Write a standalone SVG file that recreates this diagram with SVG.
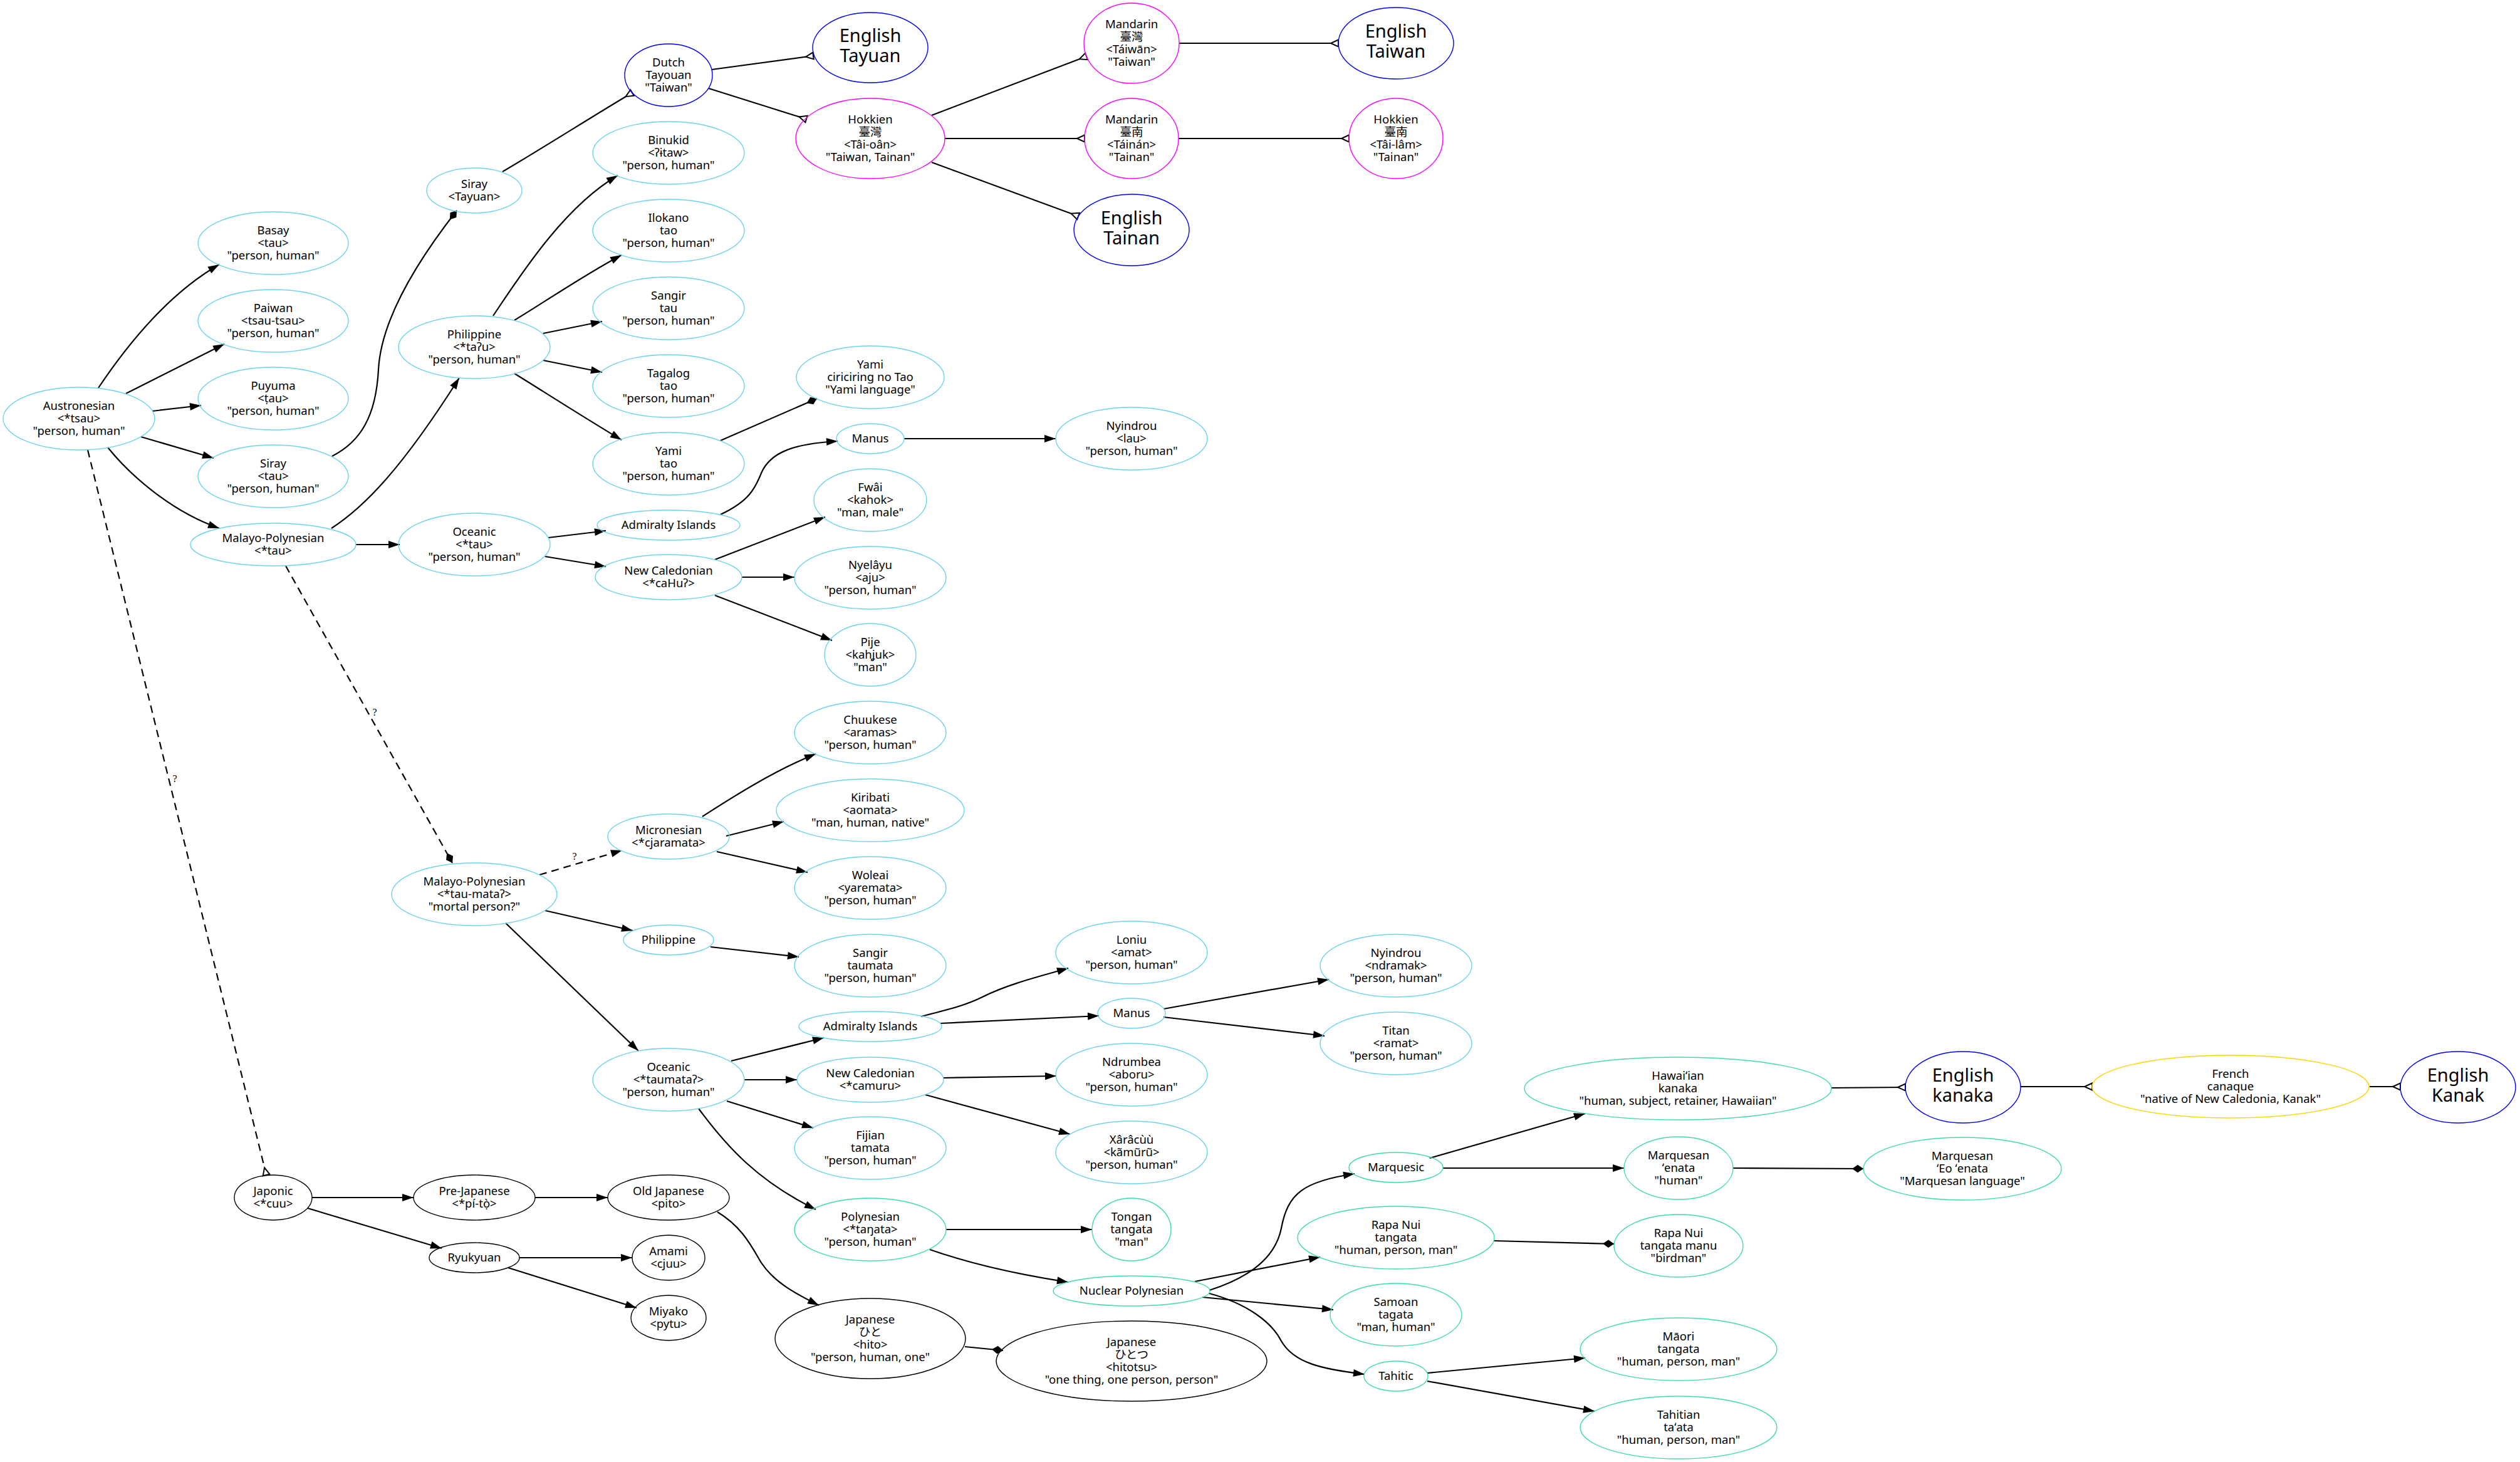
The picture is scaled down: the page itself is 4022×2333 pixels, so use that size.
<svg xmlns="http://www.w3.org/2000/svg" width="4022" height="2333" viewBox="0 0 4022 2333">
<style>
ellipse{fill:none;stroke-width:1.4}
.c ellipse{stroke:#6cd3ee}
.g ellipse{stroke:#40dca8}
.m ellipse{stroke:#ff00ff}
.b ellipse{stroke:#0000ff}
.y ellipse{stroke:#ffd400}
.k ellipse{stroke:#000}
text{font-family:"Noto Sans","Noto Sans CJK TC","Noto Sans CJK JP",sans-serif;font-size:18.5px;text-anchor:middle;fill:#000}
.big text{font-size:29px}
#edges path{fill:none;stroke:#000;stroke-width:2.2}
#edges path.d{stroke-dasharray:12,8}
#edges text{font-family:"Liberation Serif",serif;font-size:16px}
</style>
<defs>
<marker id="a" markerUnits="userSpaceOnUse" markerWidth="20" markerHeight="14" refX="18" refY="0" orient="auto" overflow="visible"><path d="M0,-6 L18,0 L0,6 z" fill="#000" stroke="none"/></marker>
<marker id="dm" markerUnits="userSpaceOnUse" markerWidth="20" markerHeight="14" refX="18" refY="0" orient="auto" overflow="visible"><path d="M0,0 L9,-6.3 L18,0 L9,6.3 z" fill="#000" stroke="none"/></marker>
<marker id="iv" markerUnits="userSpaceOnUse" markerWidth="14" markerHeight="14" refX="12" refY="0" orient="auto" overflow="visible"><path d="M12,-5.5 L0,0 L12,5.5 z" fill="#fff" stroke="#000" stroke-width="2" stroke-dasharray="none"/></marker>
</defs>
<rect width="4022" height="2333" fill="#fff"/>
<g id="edges">
<path d="M157,619 C210,540 275,465 350,422" marker-end="url(#a)"/>
<path d="M201,628 L358,549" marker-end="url(#a)"/>
<path d="M243,656 L321,647" marker-end="url(#a)"/>
<path d="M225,697 L341,731" marker-end="url(#a)"/>
<path d="M172,714 C205,755 270,815 350,843" marker-end="url(#a)"/>
<path d="M530,728 C575,705 600,665 604,590 C607,530 640,450 729,336" marker-end="url(#dm)"/>
<path d="M529,843 C580,810 640,750 733,603" marker-end="url(#a)"/>
<path d="M568,869 L638,869" marker-end="url(#a)"/>
<path d="M787,504 C830,440 900,330 986,280" marker-end="url(#a)"/>
<path d="M821,511 C860,488 930,440 992,407" marker-end="url(#a)"/>
<path d="M867,532 L961,513" marker-end="url(#a)"/>
<path d="M867,575 L961,594" marker-end="url(#a)"/>
<path d="M821,596 C860,620 930,665 992,702" marker-end="url(#a)"/>
<path d="M875,858 L967,847" marker-end="url(#a)"/>
<path d="M870,888 L967,904" marker-end="url(#a)"/>
<path d="M1150,703 L1304,636" marker-end="url(#dm)"/>
<path d="M1150,821 C1195,800 1205,780 1215,755 C1230,720 1270,708 1337,704" marker-end="url(#a)"/>
<path d="M1443,700 L1685,700" marker-end="url(#a)"/>
<path d="M1141,893 L1317,825" marker-end="url(#a)"/>
<path d="M1184,921 L1268,921" marker-end="url(#a)"/>
<path d="M1141,950 L1328,1022" marker-end="url(#a)"/>
<path d="M802,274 C860,240 950,183 1009,148" marker-end="url(#iv)"/>
<path d="M1136,111 L1298,89" marker-end="url(#iv)"/>
<path d="M1131,141 L1287,190" marker-end="url(#iv)"/>
<path d="M1487,184 L1734,90" marker-end="url(#iv)"/>
<path d="M1508,221 L1731,221" marker-end="url(#iv)"/>
<path d="M1487,259 L1721,345" marker-end="url(#iv)"/>
<path d="M1882,69 L2136,69" marker-end="url(#iv)"/>
<path d="M1881,221 L2153,221" marker-end="url(#iv)"/>
<path class="d" d="M140,718 L425,1875" marker-end="url(#iv)"/>
<text x="279" y="1248">?</text>
<path class="d" d="M456,903 L722,1377" marker-end="url(#dm)"/>
<text x="598" y="1142">?</text>
<path class="d" d="M861,1396 L993,1357" marker-end="url(#a)"/>
<text x="917" y="1372">?</text>
<path d="M870,1453 L1010,1485" marker-end="url(#a)"/>
<path d="M807,1473 L1019,1677" marker-end="url(#a)"/>
<path d="M1121,1303 C1160,1278 1230,1232 1302,1203" marker-end="url(#a)"/>
<path d="M1159,1334 L1251,1311" marker-end="url(#a)"/>
<path d="M1144,1359 L1289,1392" marker-end="url(#a)"/>
<path d="M1134,1511 L1275,1527" marker-end="url(#a)"/>
<path d="M1470,1622 C1510,1612 1540,1605 1570,1590 C1610,1570 1660,1558 1705,1545" marker-end="url(#a)"/>
<path d="M1501,1633 L1754,1621" marker-end="url(#a)"/>
<path d="M1167,1693 L1315,1656" marker-end="url(#a)"/>
<path d="M1188,1723 L1272,1723" marker-end="url(#a)"/>
<path d="M1160,1757 L1298,1800" marker-end="url(#a)"/>
<path d="M1115,1769 C1160,1830 1210,1885 1302,1930" marker-end="url(#a)"/>
<path d="M1145,1934 C1185,1958 1200,1990 1215,2015 C1235,2045 1265,2062 1307,2083" marker-end="url(#a)"/>
<path d="M1506,1720 L1686,1717" marker-end="url(#a)"/>
<path d="M1477,1747 L1708,1810" marker-end="url(#a)"/>
<path d="M1510,1962 L1743,1962" marker-end="url(#a)"/>
<path d="M1484,1994 C1530,2010 1600,2030 1705,2046" marker-end="url(#a)"/>
<path d="M1540,2149 L1601,2155" marker-end="url(#dm)"/>
<path d="M1857,1610 L2121,1563" marker-end="url(#a)"/>
<path d="M1857,1623 L2114,1653" marker-end="url(#a)"/>
<path d="M1930,2059 C1990,2040 2035,2010 2045,1960 C2055,1905 2080,1885 2162,1873" marker-end="url(#a)"/>
<path d="M1907,2045 L2107,2006" marker-end="url(#a)"/>
<path d="M1919,2070 L2128,2090" marker-end="url(#a)"/>
<path d="M1930,2064 C1990,2080 2030,2110 2045,2140 C2065,2175 2110,2185 2178,2193" marker-end="url(#a)"/>
<path d="M2282,1848 L2530,1777" marker-end="url(#a)"/>
<path d="M2303,1864 L2592,1864" marker-end="url(#a)"/>
<path d="M2384,1980 L2576,1985" marker-end="url(#dm)"/>
<path d="M2278,2191 L2530,2167" marker-end="url(#a)"/>
<path d="M2278,2204 L2545,2252" marker-end="url(#a)"/>
<path d="M2923,1736 L3041,1735" marker-end="url(#iv)"/>
<path d="M3225,1734 L3339,1734" marker-end="url(#iv)"/>
<path d="M3782,1734 L3831,1734" marker-end="url(#iv)"/>
<path d="M2766,1864 L2974,1865" marker-end="url(#dm)"/>
<path d="M498,1911 L660,1911" marker-end="url(#a)"/>
<path d="M854,1911 L970,1911" marker-end="url(#a)"/>
<path d="M491,1928 L705,1992" marker-end="url(#a)"/>
<path d="M829,2007 L1009,2007" marker-end="url(#a)"/>
<path d="M811,2023 L1016,2087" marker-end="url(#a)"/>
</g>
<g id="austronesian" class="c"><ellipse cx="126" cy="668" rx="121" ry="50"/><text x="126" y="654">Austronesian<tspan x="126" dy="20">&lt;*tsau&gt;</tspan><tspan x="126" dy="20">"person, human"</tspan></text></g>
<g id="basay" class="c"><ellipse cx="436" cy="388" rx="120" ry="50"/><text x="436" y="374">Basay<tspan x="436" dy="20">&lt;tau&gt;</tspan><tspan x="436" dy="20">"person, human"</tspan></text></g>
<g id="paiwan" class="c"><ellipse cx="436" cy="512" rx="120" ry="50"/><text x="436" y="498">Paiwan<tspan x="436" dy="20">&lt;tsau-tsau&gt;</tspan><tspan x="436" dy="20">"person, human"</tspan></text></g>
<g id="puyuma" class="c"><ellipse cx="436" cy="636" rx="120" ry="50"/><text x="436" y="622">Puyuma<tspan x="436" dy="20">&lt;ṭau&gt;</tspan><tspan x="436" dy="20">"person, human"</tspan></text></g>
<g id="siray-tau" class="c"><ellipse cx="436" cy="760" rx="120" ry="50"/><text x="436" y="746">Siray<tspan x="436" dy="20">&lt;tau&gt;</tspan><tspan x="436" dy="20">"person, human"</tspan></text></g>
<g id="mp-tau" class="c"><ellipse cx="436" cy="869" rx="132" ry="34"/><text x="436" y="865">Malayo-Polynesian<tspan x="436" dy="20">&lt;*tau&gt;</tspan></text></g>
<g id="siray-tayuan" class="c"><ellipse cx="757" cy="304" rx="76" ry="36"/><text x="757" y="300">Siray<tspan x="757" dy="20">&lt;Tayuan&gt;</tspan></text></g>
<g id="philippine-1" class="c"><ellipse cx="757" cy="554" rx="121" ry="50"/><text x="757" y="540">Philippine<tspan x="757" dy="20">&lt;*taʔu&gt;</tspan><tspan x="757" dy="20">"person, human"</tspan></text></g>
<g id="oceanic-1" class="c"><ellipse cx="757" cy="869" rx="121" ry="50"/><text x="757" y="855">Oceanic<tspan x="757" dy="20">&lt;*tau&gt;</tspan><tspan x="757" dy="20">"person, human"</tspan></text></g>
<g id="dutch" class="b"><ellipse cx="1067" cy="120" rx="70" ry="50"/><text x="1067" y="106">Dutch<tspan x="1067" dy="20">Tayouan</tspan><tspan x="1067" dy="20">"Taiwan"</tspan></text></g>
<g id="binukid" class="c"><ellipse cx="1067" cy="244" rx="121" ry="50"/><text x="1067" y="230">Binukid<tspan x="1067" dy="20">&lt;ʔɨtaw&gt;</tspan><tspan x="1067" dy="20">"person, human"</tspan></text></g>
<g id="ilokano" class="c"><ellipse cx="1067" cy="368" rx="121" ry="50"/><text x="1067" y="354">Ilokano<tspan x="1067" dy="20">tao</tspan><tspan x="1067" dy="20">"person, human"</tspan></text></g>
<g id="sangir-1" class="c"><ellipse cx="1067" cy="492" rx="121" ry="50"/><text x="1067" y="478">Sangir<tspan x="1067" dy="20">tau</tspan><tspan x="1067" dy="20">"person, human"</tspan></text></g>
<g id="tagalog" class="c"><ellipse cx="1067" cy="616" rx="121" ry="50"/><text x="1067" y="602">Tagalog<tspan x="1067" dy="20">tao</tspan><tspan x="1067" dy="20">"person, human"</tspan></text></g>
<g id="yami-tao" class="c"><ellipse cx="1067" cy="740" rx="121" ry="50"/><text x="1067" y="726">Yami<tspan x="1067" dy="20">tao</tspan><tspan x="1067" dy="20">"person, human"</tspan></text></g>
<g id="admiralty-1" class="c"><ellipse cx="1067" cy="838" rx="114" ry="24"/><text x="1067" y="844">Admiralty Islands</text></g>
<g id="newcal-1" class="c"><ellipse cx="1067" cy="921" rx="117" ry="36"/><text x="1067" y="917">New Caledonian<tspan x="1067" dy="20">&lt;*caHuʔ&gt;</tspan></text></g>
<g id="english-tayuan" class="b big"><ellipse cx="1389" cy="76" rx="92" ry="56"/><text x="1389" y="67">English<tspan x="1389" dy="32">Tayuan</tspan></text></g>
<g id="hokkien-taiwan" class="m"><ellipse cx="1389" cy="221" rx="119" ry="64"/><text x="1389" y="197">Hokkien<tspan x="1389" dy="20">臺灣</tspan><tspan x="1389" dy="20">&lt;Tâi-oân&gt;</tspan><tspan x="1389" dy="20">"Taiwan, Tainan"</tspan></text></g>
<g id="yami-ciriciring" class="c"><ellipse cx="1389" cy="602" rx="118" ry="50"/><text x="1389" y="588">Yami<tspan x="1389" dy="20">ciriciring no Tao</tspan><tspan x="1389" dy="20">"Yami language"</tspan></text></g>
<g id="manus-1" class="c"><ellipse cx="1389" cy="700" rx="54" ry="24"/><text x="1389" y="706">Manus</text></g>
<g id="fwai" class="c"><ellipse cx="1389" cy="798" rx="90" ry="50"/><text x="1389" y="784">Fwâi<tspan x="1389" dy="20">&lt;kahok&gt;</tspan><tspan x="1389" dy="20">"man, male"</tspan></text></g>
<g id="nyelayu" class="c"><ellipse cx="1389" cy="922" rx="121" ry="50"/><text x="1389" y="908">Nyelâyu<tspan x="1389" dy="20">&lt;aju&gt;</tspan><tspan x="1389" dy="20">"person, human"</tspan></text></g>
<g id="pije" class="c"><ellipse cx="1389" cy="1045" rx="73" ry="50"/><text x="1389" y="1031">Pije<tspan x="1389" dy="20">&lt;kahʝuk&gt;</tspan><tspan x="1389" dy="20">"man"</tspan></text></g>
<g id="mandarin-taiwan" class="m"><ellipse cx="1806" cy="69" rx="76" ry="64"/><text x="1806" y="45">Mandarin<tspan x="1806" dy="20">臺灣</tspan><tspan x="1806" dy="20">&lt;Táiwān&gt;</tspan><tspan x="1806" dy="20">"Taiwan"</tspan></text></g>
<g id="mandarin-tainan" class="m"><ellipse cx="1806" cy="221" rx="75" ry="64"/><text x="1806" y="197">Mandarin<tspan x="1806" dy="20">臺南</tspan><tspan x="1806" dy="20">&lt;Táinán&gt;</tspan><tspan x="1806" dy="20">"Tainan"</tspan></text></g>
<g id="english-tainan" class="b big"><ellipse cx="1806" cy="367" rx="92" ry="57"/><text x="1806" y="358">English<tspan x="1806" dy="32">Tainan</tspan></text></g>
<g id="nyindrou-lau" class="c"><ellipse cx="1806" cy="700" rx="121" ry="50"/><text x="1806" y="686">Nyindrou<tspan x="1806" dy="20">&lt;lau&gt;</tspan><tspan x="1806" dy="20">"person, human"</tspan></text></g>
<g id="english-taiwan" class="b big"><ellipse cx="2228" cy="69" rx="92" ry="57"/><text x="2228" y="60">English<tspan x="2228" dy="32">Taiwan</tspan></text></g>
<g id="hokkien-tainan" class="m"><ellipse cx="2228" cy="221" rx="75" ry="64"/><text x="2228" y="197">Hokkien<tspan x="2228" dy="20">臺南</tspan><tspan x="2228" dy="20">&lt;Tâi-lâm&gt;</tspan><tspan x="2228" dy="20">"Tainan"</tspan></text></g>
<g id="mp-taumata" class="c"><ellipse cx="757" cy="1427" rx="132" ry="50"/><text x="757" y="1413">Malayo-Polynesian<tspan x="757" dy="20">&lt;*tau-mataʔ&gt;</tspan><tspan x="757" dy="20">"mortal person?"</tspan></text></g>
<g id="micronesian" class="c"><ellipse cx="1067" cy="1335" rx="97" ry="36"/><text x="1067" y="1331">Micronesian<tspan x="1067" dy="20">&lt;*cjaramata&gt;</tspan></text></g>
<g id="philippine-2" class="c"><ellipse cx="1067" cy="1500" rx="72" ry="24"/><text x="1067" y="1506">Philippine</text></g>
<g id="oceanic-2" class="c"><ellipse cx="1067" cy="1723" rx="121" ry="50"/><text x="1067" y="1709">Oceanic<tspan x="1067" dy="20">&lt;*taumataʔ&gt;</tspan><tspan x="1067" dy="20">"person, human"</tspan></text></g>
<g id="chuukese" class="c"><ellipse cx="1389" cy="1169" rx="121" ry="50"/><text x="1389" y="1155">Chuukese<tspan x="1389" dy="20">&lt;aramas&gt;</tspan><tspan x="1389" dy="20">"person, human"</tspan></text></g>
<g id="kiribati" class="c"><ellipse cx="1389" cy="1293" rx="150" ry="50"/><text x="1389" y="1279">Kiribati<tspan x="1389" dy="20">&lt;aomata&gt;</tspan><tspan x="1389" dy="20">"man, human, native"</tspan></text></g>
<g id="woleai" class="c"><ellipse cx="1389" cy="1417" rx="121" ry="50"/><text x="1389" y="1403">Woleai<tspan x="1389" dy="20">&lt;yaremata&gt;</tspan><tspan x="1389" dy="20">"person, human"</tspan></text></g>
<g id="sangir-2" class="c"><ellipse cx="1389" cy="1541" rx="121" ry="50"/><text x="1389" y="1527">Sangir<tspan x="1389" dy="20">taumata</tspan><tspan x="1389" dy="20">"person, human"</tspan></text></g>
<g id="admiralty-2" class="c"><ellipse cx="1389" cy="1638" rx="114" ry="24"/><text x="1389" y="1644">Admiralty Islands</text></g>
<g id="newcal-2" class="c"><ellipse cx="1389" cy="1723" rx="117" ry="36"/><text x="1389" y="1719">New Caledonian<tspan x="1389" dy="20">&lt;*camuru&gt;</tspan></text></g>
<g id="fijian" class="c"><ellipse cx="1389" cy="1832" rx="121" ry="50"/><text x="1389" y="1818">Fijian<tspan x="1389" dy="20">tamata</tspan><tspan x="1389" dy="20">"person, human"</tspan></text></g>
<g id="polynesian" class="g"><ellipse cx="1389" cy="1962" rx="121" ry="50"/><text x="1389" y="1948">Polynesian<tspan x="1389" dy="20">&lt;*taŋata&gt;</tspan><tspan x="1389" dy="20">"person, human"</tspan></text></g>
<g id="japanese-hito" class="k"><ellipse cx="1389" cy="2136" rx="152" ry="64"/><text x="1389" y="2112">Japanese<tspan x="1389" dy="20">ひと</tspan><tspan x="1389" dy="20">&lt;hito&gt;</tspan><tspan x="1389" dy="20">"person, human, one"</tspan></text></g>
<g id="loniu" class="c"><ellipse cx="1806" cy="1520" rx="121" ry="50"/><text x="1806" y="1506">Loniu<tspan x="1806" dy="20">&lt;amat&gt;</tspan><tspan x="1806" dy="20">"person, human"</tspan></text></g>
<g id="manus-2" class="c"><ellipse cx="1806" cy="1617" rx="54" ry="24"/><text x="1806" y="1623">Manus</text></g>
<g id="ndrumbea" class="c"><ellipse cx="1806" cy="1715" rx="121" ry="50"/><text x="1806" y="1701">Ndrumbea<tspan x="1806" dy="20">&lt;aboru&gt;</tspan><tspan x="1806" dy="20">"person, human"</tspan></text></g>
<g id="xaracuu" class="c"><ellipse cx="1806" cy="1839" rx="121" ry="50"/><text x="1806" y="1825">Xârâcùù<tspan x="1806" dy="20">&lt;kãmũrũ&gt;</tspan><tspan x="1806" dy="20">"person, human"</tspan></text></g>
<g id="tongan" class="g"><ellipse cx="1806" cy="1962" rx="63" ry="50"/><text x="1806" y="1948">Tongan<tspan x="1806" dy="20">tangata</tspan><tspan x="1806" dy="20">"man"</tspan></text></g>
<g id="nuclear-polynesian" class="g"><ellipse cx="1806" cy="2060" rx="125" ry="24"/><text x="1806" y="2066">Nuclear Polynesian</text></g>
<g id="japanese-hitotsu" class="k"><ellipse cx="1806" cy="2172" rx="216" ry="64"/><text x="1806" y="2148">Japanese<tspan x="1806" dy="20">ひとつ</tspan><tspan x="1806" dy="20">&lt;hitotsu&gt;</tspan><tspan x="1806" dy="20">"one thing, one person, person"</tspan></text></g>
<g id="nyindrou-ndramak" class="c"><ellipse cx="2228" cy="1541" rx="121" ry="50"/><text x="2228" y="1527">Nyindrou<tspan x="2228" dy="20">&lt;ndramak&gt;</tspan><tspan x="2228" dy="20">"person, human"</tspan></text></g>
<g id="titan" class="c"><ellipse cx="2228" cy="1665" rx="121" ry="50"/><text x="2228" y="1651">Titan<tspan x="2228" dy="20">&lt;ramat&gt;</tspan><tspan x="2228" dy="20">"person, human"</tspan></text></g>
<g id="marquesic" class="g"><ellipse cx="2228" cy="1863" rx="75" ry="24"/><text x="2228" y="1869">Marquesic</text></g>
<g id="rapanui" class="g"><ellipse cx="2228" cy="1975" rx="157" ry="50"/><text x="2228" y="1961">Rapa Nui<tspan x="2228" dy="20">tangata</tspan><tspan x="2228" dy="20">"human, person, man"</tspan></text></g>
<g id="samoan" class="g"><ellipse cx="2228" cy="2098" rx="105" ry="50"/><text x="2228" y="2084">Samoan<tspan x="2228" dy="20">tagata</tspan><tspan x="2228" dy="20">"man, human"</tspan></text></g>
<g id="tahitic" class="g"><ellipse cx="2228" cy="2196" rx="51" ry="24"/><text x="2228" y="2202">Tahitic</text></g>
<g id="hawaiian" class="g"><ellipse cx="2678" cy="1737" rx="245" ry="50"/><text x="2678" y="1723">Hawaiʻian<tspan x="2678" dy="20">kanaka</tspan><tspan x="2678" dy="20">"human, subject, retainer, Hawaiian"</tspan></text></g>
<g id="marquesan-enata" class="g"><ellipse cx="2679" cy="1864" rx="87" ry="50"/><text x="2679" y="1850">Marquesan<tspan x="2679" dy="20">ʻenata</tspan><tspan x="2679" dy="20">"human"</tspan></text></g>
<g id="rapanui-manu" class="g"><ellipse cx="2679" cy="1988" rx="103" ry="50"/><text x="2679" y="1974">Rapa Nui<tspan x="2679" dy="20">tangata manu</tspan><tspan x="2679" dy="20">"birdman"</tspan></text></g>
<g id="maori" class="g"><ellipse cx="2679" cy="2153" rx="157" ry="50"/><text x="2679" y="2139">Māori<tspan x="2679" dy="20">tangata</tspan><tspan x="2679" dy="20">"human, person, man"</tspan></text></g>
<g id="tahitian" class="g"><ellipse cx="2679" cy="2278" rx="157" ry="50"/><text x="2679" y="2264">Tahitian<tspan x="2679" dy="20">taʻata</tspan><tspan x="2679" dy="20">"human, person, man"</tspan></text></g>
<g id="english-kanaka" class="b big"><ellipse cx="3133" cy="1735" rx="92" ry="57"/><text x="3133" y="1726">English<tspan x="3133" dy="32">kanaka</tspan></text></g>
<g id="french-canaque" class="y"><ellipse cx="3560" cy="1734" rx="221" ry="50"/><text x="3560" y="1720">French<tspan x="3560" dy="20">canaque</tspan><tspan x="3560" dy="20">"native of New Caledonia, Kanak"</tspan></text></g>
<g id="english-kanak" class="b big"><ellipse cx="3923" cy="1735" rx="92" ry="57"/><text x="3923" y="1726">English<tspan x="3923" dy="32">Kanak</tspan></text></g>
<g id="marquesan-eo-enata" class="g"><ellipse cx="3132" cy="1865" rx="158" ry="50"/><text x="3132" y="1851">Marquesan<tspan x="3132" dy="20">ʻEo ʻenata</tspan><tspan x="3132" dy="20">"Marquesan language"</tspan></text></g>
<g id="japonic" class="k"><ellipse cx="436" cy="1911" rx="62" ry="36"/><text x="436" y="1907">Japonic<tspan x="436" dy="20">&lt;*cuu&gt;</tspan></text></g>
<g id="pre-japanese" class="k"><ellipse cx="757" cy="1911" rx="97" ry="36"/><text x="757" y="1907">Pre-Japanese<tspan x="757" dy="20">&lt;*pí-tọ̀&gt;</tspan></text></g>
<g id="old-japanese" class="k"><ellipse cx="1067" cy="1911" rx="97" ry="36"/><text x="1067" y="1907">Old Japanese<tspan x="1067" dy="20">&lt;pito&gt;</tspan></text></g>
<g id="ryukyuan" class="k"><ellipse cx="757" cy="2007" rx="72" ry="24"/><text x="757" y="2013">Ryukyuan</text></g>
<g id="amami" class="k"><ellipse cx="1067" cy="2007" rx="58" ry="36"/><text x="1067" y="2003">Amami<tspan x="1067" dy="20">&lt;cjuu&gt;</tspan></text></g>
<g id="miyako" class="k"><ellipse cx="1067" cy="2103" rx="60" ry="36"/><text x="1067" y="2099">Miyako<tspan x="1067" dy="20">&lt;pytu&gt;</tspan></text></g>
</svg>
